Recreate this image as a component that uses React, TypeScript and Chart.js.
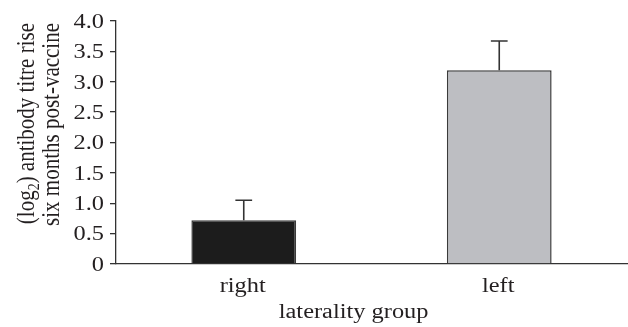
import React, { useEffect, useRef } from "react";
import { Chart, registerables } from "chart.js";

Chart.register(...registerables);

const categories = ["right", "left"];
const means = [0.72, 3.19];
const errors = [0.33, 0.48];
const barColors = ["#1c1c1c", "#bdbec2"];
const yTicks = [0, 0.5, 1.0, 1.5, 2.0, 2.5, 3.0, 3.5, 4.0];
const yTitleLine1 = ["(log", "2", ") antibody titre rise"];
const yTitleLine2 = "six months post-vaccine";
const xTitle = "laterality group";

const FONT = "'Liberation Serif', 'Times New Roman', serif";
const FS = 20;
const FS_TITLE_Y = 21;
const SX = 1.22;
const TEXT = "#231f20";

const errorBarPlugin = {
  id: "errorBars",
  afterDatasetsDraw(chart: any) {
    const ctx = chart.ctx;
    const meta = chart.getDatasetMeta(0);
    const y = chart.scales.y;
    ctx.save();
    ctx.strokeStyle = "#333";
    ctx.lineWidth = 1.6;
    meta.data.forEach((bar: any, i: number) => {
      const top = y.getPixelForValue(means[i] + errors[i]);
      const base = bar.y;
      const cap = bar.width * 0.08;
      ctx.beginPath();
      ctx.moveTo(bar.x, base);
      ctx.lineTo(bar.x, top);
      ctx.moveTo(bar.x - cap, top);
      ctx.lineTo(bar.x + cap, top);
      ctx.stroke();
    });
    ctx.restore();
  },
};

const textPlugin = {
  id: "stretchedText",
  afterDraw(chart: any) {
    const ctx = chart.ctx;
    const area = chart.chartArea;
    const xs = chart.scales.x;
    const ys = chart.scales.y;
    const font = `${FS}px ${FONT}`;
    ctx.save();
    ctx.fillStyle = TEXT;

    // y tick labels
    ctx.font = font;
    ctx.textAlign = "right";
    ctx.textBaseline = "middle";
    yTicks.forEach((v) => {
      const py = ys.getPixelForValue(v);
      ctx.save();
      ctx.translate(ys.right - 12, py + 1.5);
      ctx.scale(SX, 1);
      ctx.fillText(v === 0 ? "0" : v.toFixed(1), 0, 0);
      ctx.restore();
    });

    // x tick labels
    ctx.textAlign = "center";
    ctx.textBaseline = "alphabetic";
    categories.forEach((c, i) => {
      const px = xs.getPixelForValue(i);
      ctx.save();
      ctx.translate(px - 1, area.bottom + 28);
      ctx.scale(SX, 1);
      ctx.fillText(c, 0, 0);
      ctx.restore();
    });

    // x title
    ctx.save();
    ctx.translate(area.left + (area.right - area.left) * 0.465, area.bottom + 54);
    ctx.scale(SX, 1);
    ctx.fillText(xTitle, 0, 0);
    ctx.restore();

    // y title (rotated, with subscript)
    const big = `${FS_TITLE_Y}px ${FONT}`;
    const small = `${Math.round(FS_TITLE_Y * 0.68)}px ${FONT}`;
    ctx.textAlign = "left";
    ctx.textBaseline = "alphabetic";
    ctx.font = big;
    const w0 = ctx.measureText(yTitleLine1[0]).width;
    const w2 = ctx.measureText(yTitleLine1[2]).width;
    ctx.font = small;
    const w1 = ctx.measureText(yTitleLine1[1]).width;
    const total = w0 + w1 + w2;
    ctx.save();
    ctx.translate(33.5, area.top + 2);
    ctx.scale(SX, 1);
    ctx.rotate(-Math.PI / 2);
    let x = -total;
    ctx.font = big;
    ctx.fillText(yTitleLine1[0], x, 0);
    x += w0;
    ctx.font = small;
    ctx.fillText(yTitleLine1[1], x, FS_TITLE_Y * 0.22);
    x += w1;
    ctx.font = big;
    ctx.fillText(yTitleLine1[2], x, 0);
    const wl2 = ctx.measureText(yTitleLine2).width;
    ctx.fillText(yTitleLine2, -wl2, 25 / SX);
    ctx.restore();

    ctx.restore();
  },
};

export default function App() {
  const ref = useRef<HTMLCanvasElement | null>(null);
  useEffect(() => {
    if (!ref.current) return;
    const chart = new Chart(ref.current, {
      type: "bar",
      data: {
        labels: categories,
        datasets: [
          {
            data: means,
            backgroundColor: barColors,
            borderColor: "#3a3a3a",
            borderWidth: 1.5,
            barPercentage: 0.82,
            categoryPercentage: 0.5,
          },
        ],
      },
      options: {
        responsive: false,
        animation: false,
        devicePixelRatio: 1,
        layout: { padding: { top: 21, right: 1, left: 0, bottom: 0 } },
        plugins: { legend: { display: false }, tooltip: { enabled: false }, title: { display: false } },
        scales: {
          x: {
            grid: { display: false, drawTicks: false },
            border: { color: "#333", width: 1.3 },
            ticks: { display: false },
            afterFit(scale: any) {
              scale.height = 63;
            },
          },
          y: {
            min: 0,
            max: 4,
            afterBuildTicks(scale: any) {
              scale.ticks = yTicks.map((v) => ({ value: v }));
            },
            grid: { drawOnChartArea: false, drawTicks: true, tickLength: 6, color: "#333", lineWidth: 1.3 },
            border: { color: "#333", width: 1.3 },
            ticks: { display: false },
            afterFit(scale: any) {
              scale.width = 116;
            },
          },
        },
      },
      plugins: [errorBarPlugin, textPlugin],
    });
    return () => chart.destroy();
  }, []);
  return (
    <div style={{ position: "fixed", left: 0, top: 0, width: 628, height: 327, background: "#fff" }}>
      <canvas ref={ref} width={628} height={327} />
    </div>
  );
}
